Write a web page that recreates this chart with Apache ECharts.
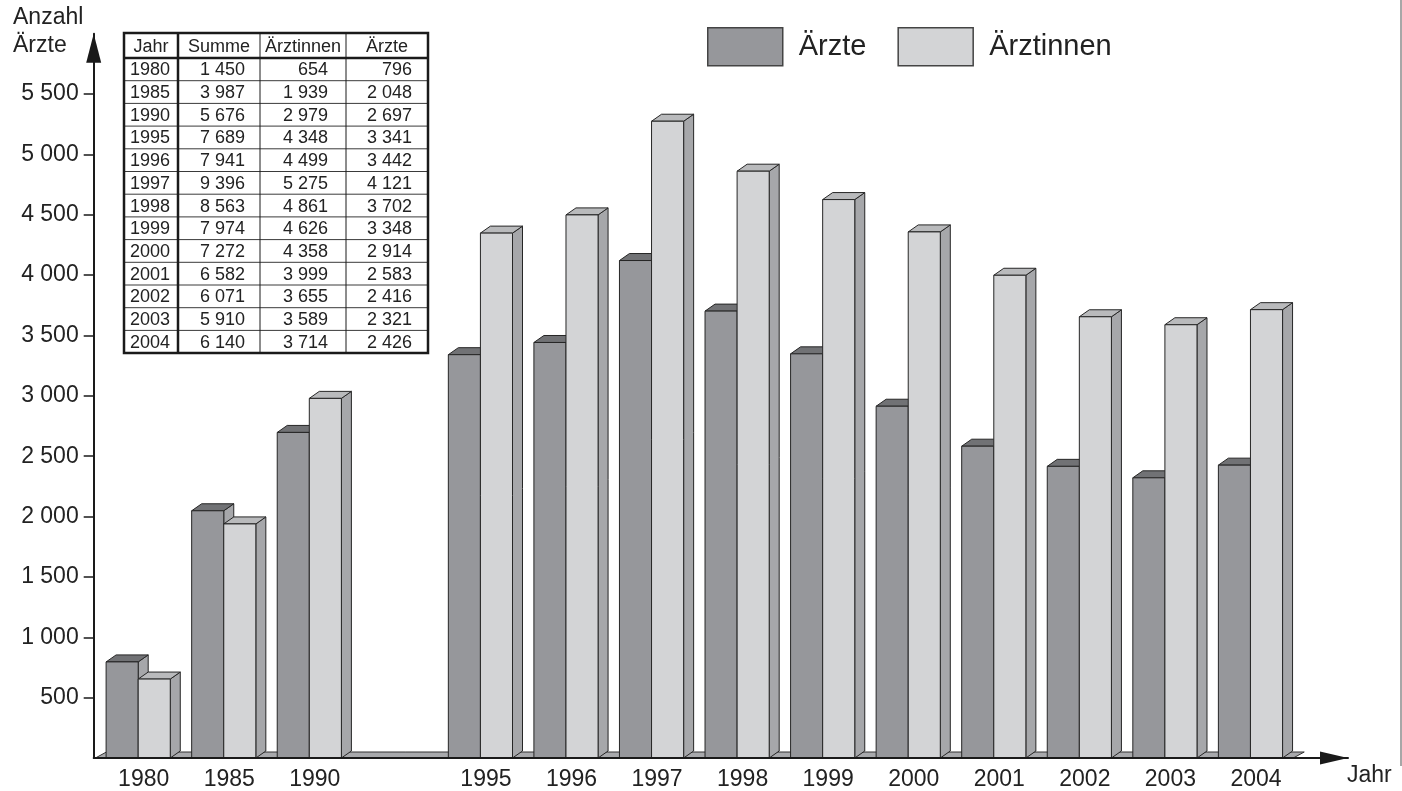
<!DOCTYPE html>
<html>
<head>
<meta charset="utf-8">
<script src="https://cdn.jsdelivr.net/npm/echarts@6/dist/echarts.min.js"></script>
<style>
  html, body { margin: 0; padding: 0; background: #ffffff; }
  #chart { width: 1402px; height: 791px; }
</style>
</head>
<body>
<div id="chart"></div>
<script>
// ---------- data ----------
const years       = ['1980','1985','1990','1995','1996','1997','1998','1999','2000','2001','2002','2003','2004'];
const summe       = [1450, 3987, 5676, 7689, 7941, 9396, 8563, 7974, 7272, 6582, 6071, 5910, 6140];
const aerztinnen  = [ 654, 1939, 2979, 4348, 4499, 5275, 4861, 4626, 4358, 3999, 3655, 3589, 3714];
const aerzte      = [ 796, 2048, 2697, 3341, 3442, 4121, 3702, 3348, 2914, 2583, 2416, 2321, 2426];
// x-axis categories; '' marks the gap between 1990 and 1995
const categories  = ['1980','1985','1990','','1995','1996','1997','1998','1999','2000','2001','2002','2003','2004'];
const yTicks      = [500, 1000, 1500, 2000, 2500, 3000, 3500, 4000, 4500, 5000, 5500];
const tableHeader = ['Jahr', 'Summe', 'Ärztinnen', 'Ärzte'];
const seriesNames = ['Ärzte', 'Ärztinnen'];
const yAxisTitle  = ['Anzahl', 'Ärzte'];
const xAxisTitle  = 'Jahr';

// ---------- helpers ----------
const FONT = '"Liberation Sans", Arial, Helvetica, sans-serif';
const fmt = v => String(v).replace(/\B(?=(\d{3})+(?!\d))/g, ' ');

function seriesData(values) {
  const out = [];
  categories.forEach((c, i) => {
    const k = years.indexOf(c);
    if (k >= 0) out.push([i, values[k]]);
  });
  return out;
}
const labelPositions = categories.map((c, i) => c ? i : null).filter(v => v !== null);

const DEPTH_X = 10, DEPTH_Y = 7;
const EDGE = { stroke: '#262626', lineWidth: 1, lineJoin: 'round' };

function bar3D(side, colors) {
  return function (params, api) {
    const x = api.value(0), v = api.value(1);
    const base = api.coord([x, 0]);
    const top = api.coord([x, v]);
    const band = api.size([1, 0])[0];
    const w = band * 0.375;
    const x0 = side === 0 ? base[0] - w : base[0];
    const x1 = x0 + w;
    const yb = base[1], yt = top[1];
    return {
      type: 'group',
      children: [
        { type: 'polygon', shape: { points: [[x1, yb], [x1, yt], [x1 + DEPTH_X, yt - DEPTH_Y], [x1 + DEPTH_X, yb - DEPTH_Y]] },
          style: Object.assign({ fill: colors.side }, EDGE) },
        { type: 'polygon', shape: { points: [[x0, yt], [x0 + DEPTH_X, yt - DEPTH_Y], [x1 + DEPTH_X, yt - DEPTH_Y], [x1, yt]] },
          style: Object.assign({ fill: colors.top }, EDGE) },
        { type: 'rect', shape: { x: x0, y: yt, width: w, height: yb - yt },
          style: Object.assign({ fill: colors.front }, EDGE) }
      ]
    };
  };
}

function floor3D(params, api) {
  const a = api.coord([api.value(0) - 0.5, 0]);
  const b = api.coord([api.value(1) + 0.5, 0]);
  const dy = 6, dx = 11;
  return {
    type: 'polygon',
    shape: { points: [[a[0], a[1]], [a[0] + dx, a[1] - dy], [b[0] + dx, b[1] - dy], [b[0], b[1]]] },
    style: { fill: '#a8a9ac', stroke: '#333', lineWidth: 1 }
  };
}

// ---------- table (graphic) ----------
const T = { colX: [124, 178, 260, 346, 428], top: 33, headH: 25, rowH: 22.7 };
function buildTable() {
  const els = [];
  const bottom = T.top + T.headH + years.length * T.rowH;
  const left = T.colX[0], right = T.colX[T.colX.length - 1];
  for (let r = 1; r < years.length; r++) {
    const y = T.top + T.headH + r * T.rowH;
    els.push({ type: 'line', shape: { x1: left, y1: y, x2: right, y2: y }, style: { stroke: '#3a3a3a', lineWidth: 1 } });
  }
  for (let c = 1; c < T.colX.length - 1; c++) {
    els.push({ type: 'line', shape: { x1: T.colX[c], y1: T.top, x2: T.colX[c], y2: bottom },
      style: { stroke: '#1a1a1a', lineWidth: c === 1 ? 2.5 : 1 } });
  }
  els.push({ type: 'line', shape: { x1: left, y1: T.top + T.headH, x2: right, y2: T.top + T.headH },
    style: { stroke: '#1a1a1a', lineWidth: 2.5 } });
  els.push({ type: 'rect', shape: { x: left, y: T.top, width: right - left, height: bottom - T.top },
    style: { fill: null, stroke: '#1a1a1a', lineWidth: 2.5 } });
  tableHeader.forEach((h, c) => {
    els.push({ type: 'text', style: {
      text: h, x: (T.colX[c] + T.colX[c + 1]) / 2, y: T.top + T.headH / 2 + 2,
      font: '18px ' + FONT, fill: '#222', textAlign: 'center', textVerticalAlign: 'middle',
      align: 'center', verticalAlign: 'middle' } });
  });
  const rightPos = [null, 245, 328, 412];
  years.forEach((yr, r) => {
    const yc = T.top + T.headH + (r + 0.5) * T.rowH + 1;
    const cells = [yr, fmt(summe[r]), fmt(aerztinnen[r]), fmt(aerzte[r])];
    cells.forEach((txt, c) => {
      const isFirst = c === 0;
      els.push({ type: 'text', style: {
        text: txt, x: isFirst ? 130 : rightPos[c], y: yc,
        font: '18px ' + FONT, fill: '#222',
        textAlign: isFirst ? 'left' : 'right', align: isFirst ? 'left' : 'right',
        textVerticalAlign: 'middle', verticalAlign: 'middle' } });
    });
  });
  return els;
}

const graphics = buildTable().concat([
  { type: 'text', style: { text: yAxisTitle[0], x: 13, y: 18, font: '23px ' + FONT, fill: '#222',
      textAlign: 'left', align: 'left', textVerticalAlign: 'middle', verticalAlign: 'middle' } },
  { type: 'text', style: { text: yAxisTitle[1], x: 13, y: 46, font: '23px ' + FONT, fill: '#222',
      textAlign: 'left', align: 'left', textVerticalAlign: 'middle', verticalAlign: 'middle' } },
  { type: 'text', style: { text: xAxisTitle, x: 1347, y: 776, font: '23px ' + FONT, fill: '#222',
      textAlign: 'left', align: 'left', textVerticalAlign: 'middle', verticalAlign: 'middle' } },
  { type: 'line', shape: { x1: 1401, y1: 0, x2: 1401, y2: 766 }, style: { stroke: '#8a8a8a', lineWidth: 1.5 } }
]);

// ---------- chart ----------
const chart = echarts.init(document.getElementById('chart'), null, { renderer: 'canvas' });
chart.setOption({
  animation: false,
  backgroundColor: '#ffffff',
  grid: { left: 93.7, right: 54, top: 33.7, bottom: 32.5, containLabel: false },
  legend: {
    left: 702, top: 22, itemWidth: 75, itemHeight: 38, itemGap: 31, icon: 'rect',
    data: seriesNames,
    textStyle: { fontSize: 29, color: '#222', fontFamily: FONT, padding: [0, 0, 0, 11] },
    itemStyle: { borderColor: '#444', borderWidth: 1.5 }
  },
  xAxis: {
    type: 'value', min: -0.52, max: 14.14, z: 10,
    splitLine: { show: false },
    axisTick: { show: false },
    axisLine: { show: true, onZero: false, symbol: ['none', 'triangle'], symbolSize: [13, 28], symbolOffset: [0, -14],
      lineStyle: { color: '#1a1a1a', width: 2 } },
    axisLabel: {
      customValues: labelPositions,
      formatter: v => categories[Math.round(v)],
      fontSize: 23, color: '#222', fontFamily: FONT, margin: 10, padding: [0, 0, 0, 11]
    }
  },
  yAxis: {
    type: 'value', min: 0, max: 6000, interval: 500, z: 10,
    splitLine: { show: false },
    axisLine: { show: true, onZero: false, symbol: ['none', 'triangle'], symbolSize: [15, 29], symbolOffset: [0, -14.5],
      lineStyle: { color: '#1a1a1a', width: 2 } },
    axisTick: { show: true, customValues: yTicks, length: 10, lineStyle: { color: '#1a1a1a', width: 1.5 } },
    axisLabel: { customValues: yTicks, formatter: v => fmt(v), fontSize: 23, color: '#222', fontFamily: FONT, margin: 15 }
  },
  series: [
    { type: 'custom', name: 'floor', z: 1, silent: true, renderItem: floor3D,
      encode: { x: [0, 1] }, data: [[0, categories.length - 1]] },
    { type: 'custom', name: seriesNames[0], z: 2, itemStyle: { color: '#96979b' },
      renderItem: bar3D(0, { front: '#96979b', side: '#a6a7aa', top: '#717275' }),
      encode: { x: 0, y: 1 }, data: seriesData(aerzte) },
    { type: 'custom', name: seriesNames[1], z: 3, itemStyle: { color: '#d3d4d6' },
      renderItem: bar3D(1, { front: '#d3d4d6', side: '#a6a7aa', top: '#b9babc' }),
      encode: { x: 0, y: 1 }, data: seriesData(aerztinnen) }
  ],
  graphic: { elements: graphics }
});
</script>
</body>
</html>
